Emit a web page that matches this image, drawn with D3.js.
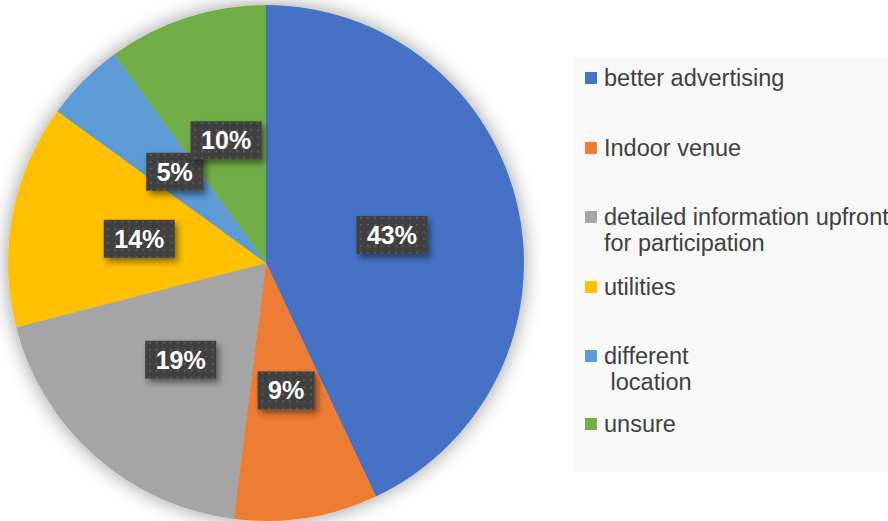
<!DOCTYPE html>
<html>
<head>
<meta charset="utf-8">
<script src="https://cdn.jsdelivr.net/npm/d3@7"></script>
<style>
  html, body { margin: 0; padding: 0; background: #ffffff; overflow: hidden; }
  svg { display: block; }
</style>
</head>
<body>
<svg id="chart" width="888" height="521"></svg>
<script>
// Survey answers: what would improve the event
const categories = ["better advertising", "Indoor venue", "detailed information upfront for participation", "utilities", "different location", "unsure"];
const legendLines = [["better advertising"], ["Indoor venue"], ["detailed information upfront", "for participation"], ["utilities"], ["different", " location"], ["unsure"]];
const shares = [43, 9, 19, 14, 5, 10];
const colors = ["#4472C4", "#ED7D31", "#A5A5A5", "#FFC000", "#5B9BD5", "#70AD47"];
const legendY = [78, 148, 217, 287, 356, 424];

const svg = d3.select("#chart");
const cx = 266, cy = 263, R = 258;

const defs = svg.append("defs");

// soft halo around the pie
const glow = defs.append("filter").attr("id", "pieGlow")
  .attr("x", "-20%").attr("y", "-20%").attr("width", "140%").attr("height", "140%");
glow.append("feDropShadow").attr("dx", 0).attr("dy", 0)
  .attr("stdDeviation", 10).attr("flood-color", "#000").attr("flood-opacity", 0.4);

// label box shadow
const boxShadow = defs.append("filter").attr("id", "boxShadow")
  .attr("x", "-30%").attr("y", "-30%").attr("width", "170%").attr("height", "180%");
boxShadow.append("feDropShadow").attr("dx", 3).attr("dy", 4)
  .attr("stdDeviation", 3).attr("flood-color", "#000").attr("flood-opacity", 0.45);

// dotted fill for the label boxes
const pat = defs.append("pattern").attr("id", "dots")
  .attr("patternUnits", "userSpaceOnUse").attr("width", 7).attr("height", 7);
pat.append("rect").attr("width", 7).attr("height", 7).attr("fill", "#404040");
pat.append("rect").attr("x", 3).attr("y", 3).attr("width", 2).attr("height", 2).attr("fill", "#5a5a5a");

// legend panel
svg.append("rect")
  .attr("x", 574).attr("y", 57).attr("width", 330).attr("height", 415)
  .attr("fill", "#f8f8f8");

const pie = d3.pie().value(d => d).sort(null);
const arcs = pie(shares);
const arc = d3.arc().innerRadius(0).outerRadius(R);

const g = svg.append("g").attr("transform", `translate(${cx},${cy})`);

g.append("g").attr("filter", "url(#pieGlow)")
  .selectAll("path").data(arcs).join("path")
  .attr("d", arc)
  .attr("fill", (d, i) => colors[i]);

// percentage labels at arc centroids
const lbl = g.selectAll("g.lbl").data(arcs).join("g").attr("class", "lbl")
  .attr("transform", d => `translate(${arc.centroid(d)})`);

lbl.each(function(d) {
  const sel = d3.select(this);
  const t = sel.append("text")
    .attr("text-anchor", "middle")
    .attr("dy", "0.36em")
    .attr("font-family", "Liberation Sans, Arial, sans-serif")
    .attr("font-weight", "bold")
    .attr("font-size", 25)
    .attr("fill", "#ffffff")
    .text(d.data + "%");
  const w = t.node().getComputedTextLength();
  const bw = w + 21, bh = 38;
  sel.insert("rect", "text")
    .attr("x", -bw / 2).attr("y", -bh / 2)
    .attr("width", bw).attr("height", bh)
    .attr("fill", "url(#dots)")
    .attr("filter", "url(#boxShadow)");
});

// legend entries
const leg = svg.append("g");
categories.forEach((c, i) => {
  const y = legendY[i];
  leg.append("rect")
    .attr("x", 585).attr("y", y - 6).attr("width", 12).attr("height", 12)
    .attr("fill", colors[i]);
  const t = leg.append("text")
    .attr("x", 604).attr("y", y)
    .attr("font-family", "Liberation Sans, Arial, sans-serif")
    .attr("font-size", 23.5)
    .attr("fill", "#404040")
    .attr("xml:space", "preserve")
    .style("white-space", "pre");
  legendLines[i].forEach((line, j) => {
    t.append("tspan").attr("x", 604).attr("dy", j === 0 ? "0.35em" : "26px").text(line);
  });
});
</script>
</body>
</html>
